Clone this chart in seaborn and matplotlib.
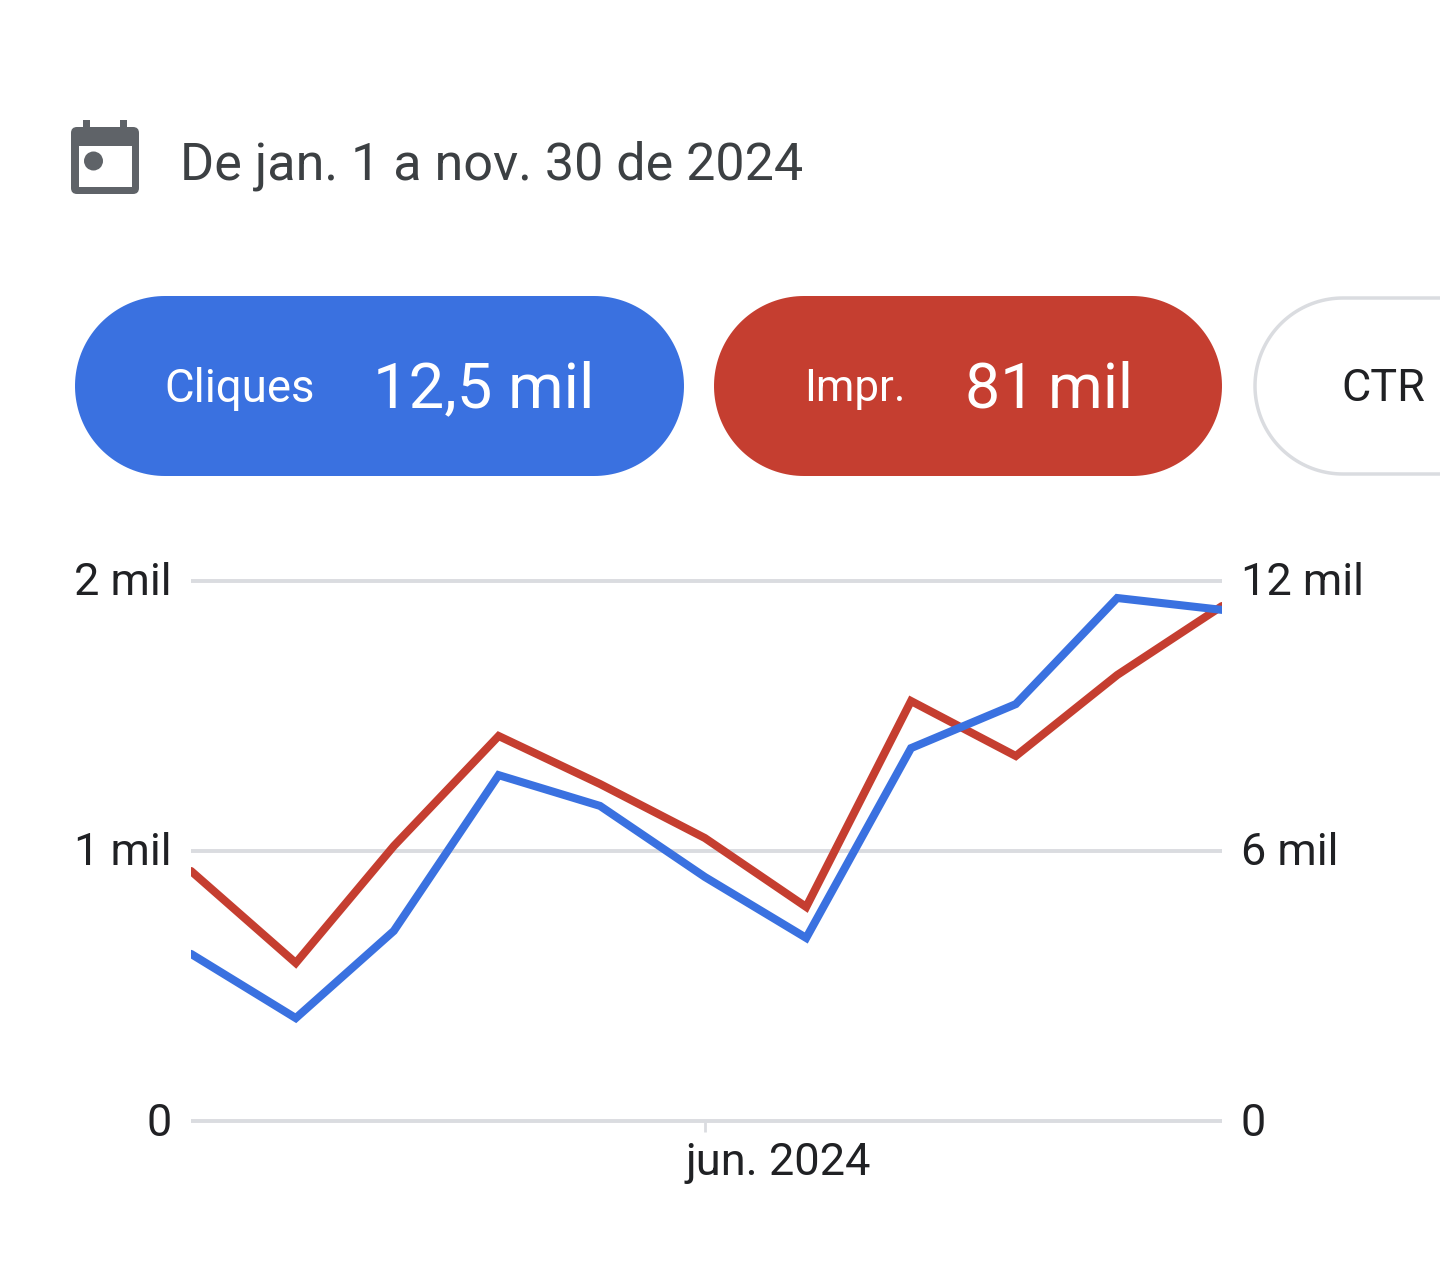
import numpy as np
import pandas as pd
import seaborn as sns
import matplotlib.pyplot as plt
from matplotlib.patches import Circle, Polygon, Rectangle, FancyBboxPatch
from matplotlib.transforms import ScaledTranslation

## Data
meses = ['2024-01-01', '2024-02-01', '2024-03-01', '2024-04-01', '2024-05-01', '2024-06-01',
         '2024-07-01', '2024-08-01', '2024-09-01', '2024-10-01', '2024-11-01']
cliques = [619, 381, 704, 1281, 1167, 904, 678, 1381, 1544, 1937, 1893]
impressoes = [5556, 3511, 6111, 8556, 7489, 6289, 4756, 9333, 8111, 9911, 11444]
ticks_cliques = [0, 1000, 2000]
labels_cliques = ['0', '1 mil', '2 mil']
ticks_impr = [0, 6000, 12000]
labels_impr = ['0', '6 mil', '12 mil']
tick_x = '2024-06-01'
label_x = 'jun. 2024'
titulo = 'De jan. 1 a nov. 30 de 2024'

AZUL = '#3a71e0'
VERMELHO = '#c53e30'
CINZA = '#dadce0'
ESCURO = '#202124'

sns.set_style('white')
plt.rcParams['font.family'] = ['Roboto', 'DejaVu Sans']

df = pd.DataFrame({'mes': pd.to_datetime(meses), 'cliques': cliques, 'impr': impressoes})

W, H = 1440, 1281
fig = plt.figure(figsize=(W / 100, H / 100), dpi=100, facecolor='white')

## Overlay in pixel coords for the header and the pills
bg = fig.add_axes([0, 0, 1, 1])
bg.set_xlim(0, W)
bg.set_ylim(H, 0)
bg.axis('off')


def pill(x0, x1, y0, y1, **kw):
    # true semicircle ends, FancyBboxPatch rounding comes out too square
    r = (y1 - y0) / 2
    t = np.linspace(-np.pi / 2, np.pi / 2, 80)
    cy = (y0 + y1) / 2
    xs = np.r_[x1 - r + r * np.cos(t), x0 + r - r * np.cos(t[::-1])]
    ys = np.r_[cy + r * np.sin(t), cy + r * np.sin(t[::-1])]
    bg.add_patch(Polygon(np.c_[xs, ys], closed=True, **kw))


# calendar icon
icone = '#5f6368'
bg.add_patch(FancyBboxPatch((77, 133), 56, 55, boxstyle='round,pad=6,rounding_size=6', fc=icone, ec='none'))
bg.add_patch(Rectangle((79, 146), 53, 41, fc='white', ec='none'))
bg.add_patch(Rectangle((83, 120), 7, 9, fc=icone, ec='none'))
bg.add_patch(Rectangle((120, 120), 7, 9, fc=icone, ec='none'))
bg.add_patch(Circle((93.5, 161), 9.5, fc=icone, ec='none'))
bg.text(180, 166, titulo, fontsize=37.5, color='#3c4043', va='center', ha='left')

pill(75, 684, 296, 476, fc=AZUL, ec='none')
pill(714, 1222, 296, 476, fc=VERMELHO, ec='none')
pill(1255, 1700, 298, 474, fc='white', ec=CINZA, lw=2.5)
bg.set_xlim(0, W)
bg.text(164, 389, 'Cliques', fontsize=32.9, color='white', va='center', ha='left')
bg.text(373, 390, '12,5 mil', fontsize=45.6, color='white', va='center', ha='left')
bg.text(804, 389, 'Impr.', fontsize=31.6, color='white', va='center', ha='left')
bg.text(965, 390, '81\u2009mil', fontsize=45, color='white', va='center', ha='left')
bg.text(1341, 389, 'CTR', fontsize=32.4, color=ESCURO, va='center', ha='left')

## Chart
ax = fig.add_axes([191 / W, 1 - 1121 / H, (1222 - 191) / W, (1121 - 581) / H])
ax2 = ax.twinx()

sns.lineplot(data=df, x='mes', y='cliques', ax=ax, color=AZUL, lw=5.8, sort=False, legend=False, solid_joinstyle='miter')
sns.lineplot(data=df, x='mes', y='impr', ax=ax2, color=VERMELHO, lw=5.8, sort=False, legend=False, solid_joinstyle='miter')
ax.set_xlim(df['mes'].iloc[0], df['mes'].iloc[-1])
ax.set_ylim(0, 2000)
ax2.set_ylim(0, 12000)
ax.set_xlabel('')
ax.set_ylabel('')
ax2.set_ylabel('')

ax.set_yticks(ticks_cliques, labels_cliques)
ax2.set_yticks(ticks_impr, labels_impr)
ax.set_xticks([pd.Timestamp(tick_x)], [label_x])
ax.tick_params(axis='y', length=0, pad=13.7, labelsize=32.4, labelcolor=ESCURO)
ax2.tick_params(axis='y', length=0, pad=13.5, labelsize=32.4, labelcolor=ESCURO)
ax.tick_params(axis='x', bottom=True, length=8, width=2, color=CINZA, pad=7, labelsize=32.6, labelcolor=ESCURO)
for lab in ax.get_xticklabels():
    lab.set_ha('left')
    lab.set_transform(lab.get_transform() + ScaledTranslation(-0.19, 0, fig.dpi_scale_trans))
for lab in ax.get_yticklabels() + ax2.get_yticklabels():
    lab.set_transform(lab.get_transform() + ScaledTranslation(0, 0.02, fig.dpi_scale_trans))

for a in (ax, ax2):
    for s in a.spines.values():
        s.set_visible(False)

# grid lives on the lower axes so both lines sit over it, blue on top of red
ax.grid(False)
ax2.grid(axis='y', color=CINZA, lw=2.8)
for g in ax2.get_ygridlines():
    g.set_clip_on(False)
    g.set_solid_capstyle('butt')
ax2.set_axisbelow(True)
ax2.set_zorder(1)
ax.set_zorder(2)
ax.patch.set_alpha(0)
ax2.patch.set_alpha(0)

plt.savefig('out.png', dpi=100)
plt.close()
